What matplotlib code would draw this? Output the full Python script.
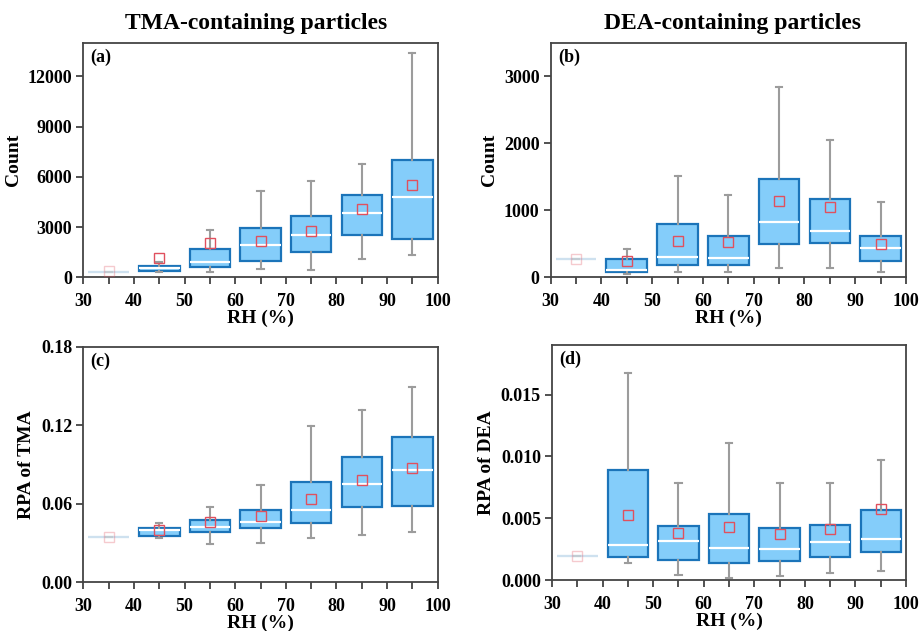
"""
Box plots of particle counts and RPA vs relative humidity
for TMA- and DEA-containing particles.
"""

import numpy as np
import matplotlib.pyplot as plt
import matplotlib as mpl
from matplotlib.ticker import MultipleLocator

mpl.rcParams.update({
    'font.family': ['Liberation Serif', 'DejaVu Serif'],
    'font.weight': 'bold',
    'axes.labelweight': 'bold',
    'axes.facecolor': 'white',
})

# RH bin centres (%)
rh = [35, 45, 55, 65, 75, 85, 95]

# (a) TMA-containing particle counts
tma_cnt_q1 = [330, 400, 640, 975, 1510, 2520, 2290]
tma_cnt_med = [330, 540, 935, 1930, 2545, 3815, 4770]
tma_cnt_q3 = [330, 675, 1670, 2920, 3675, 4910, 7030]
tma_cnt_lo = [330, 300, 300, 520, 460, 1095, 1350]
tma_cnt_hi = [330, 935, 2820, 5165, 5760, 6775, 13390]
tma_cnt_mean = [355, 1135, 2045, 2145, 2760, 4075, 5485]

# (b) DEA-containing particle counts
dea_cnt_q1 = [268, 75, 185, 190, 500, 510, 248]
dea_cnt_med = [268, 115, 298, 293, 830, 695, 437]
dea_cnt_q3 = [268, 273, 800, 610, 1465, 1172, 620]
dea_cnt_lo = [268, 50, 80, 85, 140, 135, 85]
dea_cnt_hi = [268, 427, 1510, 1227, 2835, 2055, 1128]
dea_cnt_mean = [268, 238, 546, 527, 1142, 1053, 502]

# (c) RPA of TMA
tma_rpa_q1 = [0.0344, 0.0356, 0.0387, 0.0415, 0.0456, 0.0578, 0.0586]
tma_rpa_med = [0.0344, 0.0397, 0.0420, 0.0458, 0.0552, 0.0754, 0.0861]
tma_rpa_q3 = [0.0344, 0.0418, 0.0479, 0.0552, 0.0766, 0.0957, 0.1112]
tma_rpa_lo = [0.0344, 0.0341, 0.0290, 0.0298, 0.0341, 0.0364, 0.0382]
tma_rpa_hi = [0.0344, 0.0453, 0.0578, 0.0741, 0.1192, 0.1319, 0.1492]
tma_rpa_mean = [0.0344, 0.0402, 0.0458, 0.0504, 0.0639, 0.0779, 0.0873]

# (d) RPA of DEA
dea_rpa_q1 = [0.00194, 0.00191, 0.00161, 0.00137, 0.00156, 0.00188, 0.00228]
dea_rpa_med = [0.00194, 0.00288, 0.00320, 0.00263, 0.00250, 0.00306, 0.00333]
dea_rpa_q3 = [0.00194, 0.00890, 0.00438, 0.00535, 0.00422, 0.00444, 0.00567]
dea_rpa_lo = [0.00194, 0.00142, 0.00046, 0.00022, 0.00035, 0.00062, 0.00075]
dea_rpa_hi = [0.00194, 0.01672, 0.00788, 0.01110, 0.00788, 0.00788, 0.00970]
dea_rpa_mean = [0.00194, 0.00527, 0.00382, 0.00427, 0.00374, 0.00417, 0.00578]

BOX_FILL = '#84CDFA'
BOX_EDGE = '#1B74B9'
WHISKER = '#9C9C9C'
MEAN_EDGE = '#E0505E'


def make_stats(q1, med, q3, lo, hi, mean):
    return [dict(q1=a, med=b, q3=c, whislo=d, whishi=e, mean=f, fliers=[])
            for a, b, c, d, e, f in zip(q1, med, q3, lo, hi, mean)]


def draw_panel(ax, stats, ylim, yticks, ylabel, tag, fmt):
    arts = ax.bxp(stats, positions=rh, widths=8, patch_artist=True,
                  showmeans=True, capwidths=1.2, manage_ticks=False,
                  boxprops=dict(facecolor=BOX_FILL, edgecolor=BOX_EDGE, linewidth=1.6),
                  medianprops=dict(color='white', linewidth=1.6),
                  whiskerprops=dict(color=WHISKER, linewidth=1.5),
                  capprops=dict(color=WHISKER, linewidth=1.5),
                  meanprops=dict(marker='s', markerfacecolor='none',
                                 markeredgecolor=MEAN_EDGE, markersize=7,
                                 markeredgewidth=1.0))
    # the lowest RH bin holds a single value, drawn faded
    for key in ('boxes', 'medians', 'means', 'whiskers', 'caps'):
        items = arts[key]
        n = len(items) // len(rh)
        for a in items[:n]:
            a.set_alpha(0.3)
            a.set_zorder(1)
    for m in arts['means']:
        m.set_zorder(5)

    ax.set_xlim(30, 100)
    ax.xaxis.set_major_locator(MultipleLocator(10))
    ax.xaxis.set_minor_locator(MultipleLocator(5))
    ax.set_ylim(*ylim)
    ax.set_yticks(yticks)
    ax.set_yticklabels([fmt.format(v) for v in yticks])
    ax.tick_params(axis='both', which='both', direction='out', length=5,
                   width=1.2, color='#333333', labelsize=13, top=False, right=False)
    ax.tick_params(axis='x', which='major', pad=6)
    ax.tick_params(axis='y', which='major', pad=3)
    for s in ax.spines.values():
        s.set_color('#444444')
        s.set_linewidth(1.3)
    ax.set_xlabel('RH (%)', fontsize=14, labelpad=0)
    ax.set_ylabel(ylabel, fontsize=14, labelpad=4)
    ax.text(0.02, 0.975, tag, transform=ax.transAxes, ha='left', va='top',
            fontsize=13, fontweight='bold')


fig = plt.figure(figsize=(9.19, 6.31), dpi=100)
ax_a = fig.add_axes([0.0907, 0.5605, 0.3856, 0.3718])
ax_b = fig.add_axes([0.5992, 0.5605, 0.3866, 0.3718])
ax_c = fig.add_axes([0.0907, 0.0772, 0.3856, 0.3734])
ax_d = fig.add_axes([0.6007, 0.0803, 0.3852, 0.3729])

draw_panel(ax_a, make_stats(tma_cnt_q1, tma_cnt_med, tma_cnt_q3,
                            tma_cnt_lo, tma_cnt_hi, tma_cnt_mean),
           (0, 14000), [0, 3000, 6000, 9000, 12000], 'Count', '(a)', '{:.0f}')
draw_panel(ax_b, make_stats(dea_cnt_q1, dea_cnt_med, dea_cnt_q3,
                            dea_cnt_lo, dea_cnt_hi, dea_cnt_mean),
           (0, 3500), [0, 1000, 2000, 3000], 'Count', '(b)', '{:.0f}')
draw_panel(ax_c, make_stats(tma_rpa_q1, tma_rpa_med, tma_rpa_q3,
                            tma_rpa_lo, tma_rpa_hi, tma_rpa_mean),
           (0, 0.18), [0, 0.06, 0.12, 0.18], 'RPA of TMA', '(c)', '{:.2f}')
draw_panel(ax_d, make_stats(dea_rpa_q1, dea_rpa_med, dea_rpa_q3,
                            dea_rpa_lo, dea_rpa_hi, dea_rpa_mean),
           (0, 0.019), [0, 0.005, 0.010, 0.015], 'RPA of DEA', '(d)', '{:.3f}')

fig.text(0.279, 0.963, 'TMA-containing particles', ha='center', va='center',
         fontsize=17, fontweight='bold')
fig.text(0.797, 0.963, 'DEA-containing particles', ha='center', va='center',
         fontsize=17, fontweight='bold')

plt.savefig('out.png', dpi=100)
plt.close()
